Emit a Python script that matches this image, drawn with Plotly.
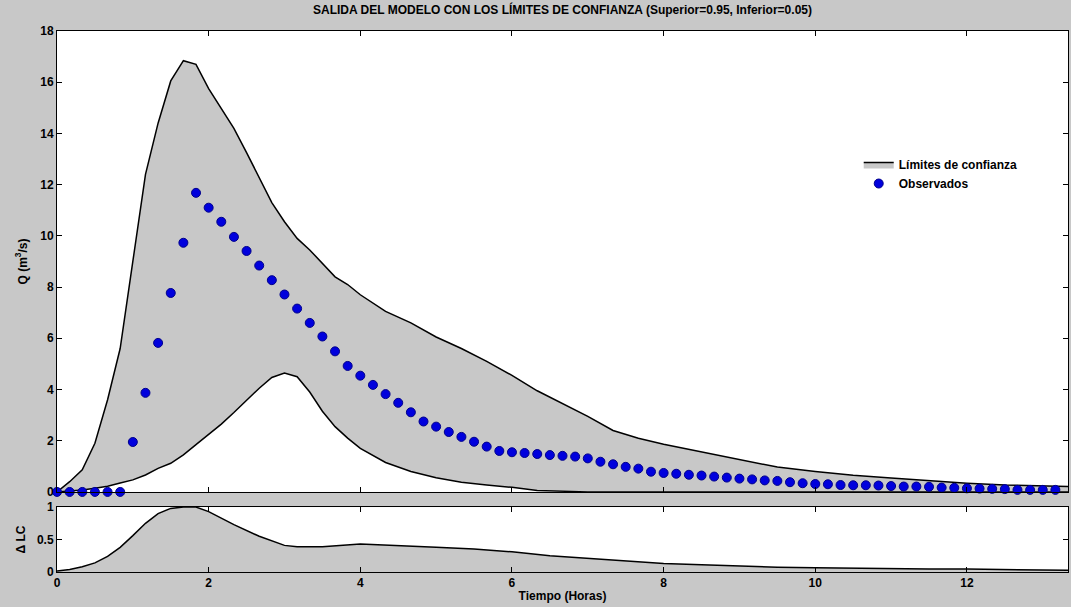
import plotly.graph_objects as go

# ---------------- data ----------------
dt_hours = 1 / 6  # observations every 10 minutes

q_obs = [0, 0, 0, 0, 0, 0, 1.95, 3.87, 5.82, 7.77, 9.73, 11.68, 11.1, 10.55, 9.96,
         9.41, 8.84, 8.27, 7.71, 7.16, 6.6, 6.07, 5.49, 4.92, 4.54, 4.18, 3.82, 3.48,
         3.11, 2.75, 2.55, 2.34, 2.15, 1.96, 1.77, 1.6, 1.55, 1.52, 1.48, 1.44, 1.41,
         1.38, 1.31, 1.18, 1.08, 0.98, 0.91, 0.79, 0.74, 0.71, 0.67, 0.64, 0.6, 0.56,
         0.52, 0.49, 0.45, 0.43, 0.38, 0.34, 0.31, 0.3, 0.27, 0.26, 0.26, 0.25, 0.23,
         0.21, 0.21, 0.2, 0.17, 0.16, 0.14, 0.13, 0.12, 0.11, 0.08, 0.08, 0.08, 0.08, 0.08]
t_obs = [i * dt_hours for i in range(len(q_obs))]

t_bounds = [0, 0.167, 0.333, 0.5, 0.667, 0.833, 1.0, 1.167, 1.333, 1.5, 1.667, 1.833,
            2.0, 2.167, 2.333, 2.5, 2.667, 2.833, 3.0, 3.167, 3.333, 3.5, 3.667, 3.833,
            4.0, 4.333, 4.667, 5.0, 5.333, 5.667, 6.0, 6.333, 6.667, 7.0, 7.333, 7.667,
            8.0, 8.5, 9.0, 9.5, 10.0, 10.5, 11.0, 11.5, 12.0, 12.5, 13.0, 13.333]
q_upper = [0, 0.4, 0.86, 1.9, 3.6, 5.6, 9.0, 12.4, 14.4, 16.05, 16.84, 16.7,
           15.75, 14.95, 14.2, 13.25, 12.3, 11.3, 10.55, 9.9, 9.45, 8.93, 8.4, 8.1,
           7.7, 7.05, 6.6, 6.05, 5.6, 5.1, 4.55, 3.95, 3.45, 2.95, 2.4, 2.1,
           1.86, 1.57, 1.27, 0.97, 0.8, 0.65, 0.54, 0.43, 0.34, 0.27, 0.23, 0.21]
q_lower = [0, 0.03, 0.08, 0.14, 0.22, 0.35, 0.47, 0.66, 0.92, 1.12, 1.45, 1.85,
           2.25, 2.65, 3.1, 3.58, 4.05, 4.47, 4.64, 4.5, 3.9, 3.15, 2.55, 2.1,
           1.7, 1.15, 0.8, 0.55, 0.38, 0.27, 0.18, 0.06, 0.03, 0, 0, 0,
           0, 0, 0, 0, 0, 0, 0, 0, 0, 0, 0, 0]

t_dlc = [0, 0.167, 0.333, 0.5, 0.667, 0.833, 1.0, 1.167, 1.333, 1.5, 1.667, 1.833,
         2.0, 2.333, 2.667, 3.0, 3.167, 3.5, 4.0, 4.5, 5.0, 5.5, 6.0, 6.5, 7.0, 7.5,
         8.0, 8.5, 9.0, 9.5, 10.0, 10.5, 11.0, 11.5, 12.0, 12.5, 13.0, 13.333]
dlc = [0.015, 0.04, 0.08, 0.14, 0.24, 0.38, 0.56, 0.75, 0.9, 0.98, 1.0, 1.0,
       0.93, 0.73, 0.55, 0.41, 0.39, 0.39, 0.43, 0.41, 0.38, 0.355, 0.31, 0.25, 0.21, 0.16,
       0.13, 0.11, 0.09, 0.075, 0.065, 0.057, 0.05, 0.046, 0.046, 0.042, 0.036, 0.026]

title_text = "SALIDA DEL MODELO CON LOS LÍMITES DE CONFIANZA (Superior=0.95, Inferior=0.05)"
legend_band = "Límites de confianza"
legend_obs = "Observados"
x_title = "Tiempo (Horas)"
y_title = "Q (m<sup>3</sup>/s)"
y2_title = "Δ LC"

# ---------------- styling ----------------
BG = "#c8c8c8"
FILL = "#c8c8c8"
FONT = "Liberation Sans, Arial, sans-serif"
bold = dict(family=FONT, size=12, color="black", weight="bold")

fig = go.Figure()

fig.add_trace(go.Scatter(x=t_bounds, y=q_lower, mode="lines",
                         line=dict(color="black", width=1.5),
                         showlegend=False, hoverinfo="skip",
                         xaxis="x", yaxis="y"))
fig.add_trace(go.Scatter(x=t_bounds, y=q_upper, mode="lines", fill="tonexty",
                         fillcolor=FILL, line=dict(color="black", width=1.5),
                         name=legend_band, xaxis="x", yaxis="y"))
fig.add_trace(go.Scatter(x=t_obs, y=q_obs, mode="markers", name=legend_obs,
                         marker=dict(size=9, color="#0000dd",
                                     line=dict(color="#00008b", width=1)),
                         cliponaxis=False, xaxis="x", yaxis="y"))

fig.add_trace(go.Scatter(x=t_dlc, y=dlc, mode="lines", fill="tozeroy",
                         fillcolor=FILL, line=dict(color="black", width=1.5),
                         showlegend=False, xaxis="x2", yaxis="y2"))

axis_common = dict(showline=True, linecolor="black", linewidth=1, mirror="ticks",
                   ticks="inside", ticklen=5, tickcolor="black", tickwidth=1,
                   showgrid=False, zeroline=False, tickfont=bold, automargin=False)

xmax = 13.333
fig.update_layout(
    width=1071, height=607,
    paper_bgcolor=BG, plot_bgcolor="white",
    margin=dict(l=57, r=3, t=31, b=35),
    title=dict(text=title_text, x=0.5, xref="paper", xanchor="center",
               y=1 - 10 / 607, yanchor="middle",
               font=dict(family=FONT, size=12, color="black", weight="bold")),
    xaxis=dict(domain=[0, 1], range=[0, xmax], dtick=2, anchor="y",
               showticklabels=False, **axis_common),
    yaxis=dict(domain=[0.148, 1], range=[0, 18], dtick=2, anchor="x",
               title=dict(text=y_title, font=bold, standoff=10), **axis_common),
    xaxis2=dict(domain=[0, 1], range=[0, xmax], dtick=2, anchor="y2",
                title=dict(text=x_title, font=bold, standoff=2), **axis_common),
    yaxis2=dict(domain=[0, 0.12], range=[0, 1], tickvals=[0, 0.5, 1],
                ticktext=["0", "0.5", "1"], anchor="x2",
                title=dict(text=y2_title, font=bold, standoff=8), **axis_common),
    legend=dict(x=0.793, y=0.78, xanchor="left", yanchor="top",
                traceorder="normal",
                bgcolor="rgba(0,0,0,0)", borderwidth=0, font=bold,
                itemwidth=30, tracegroupgap=0),
    showlegend=True,
)

fig.write_html("out.html", config={"displayModeBar": False},
               post_script="document.body.style.margin='0';document.body.style.padding='0';")
